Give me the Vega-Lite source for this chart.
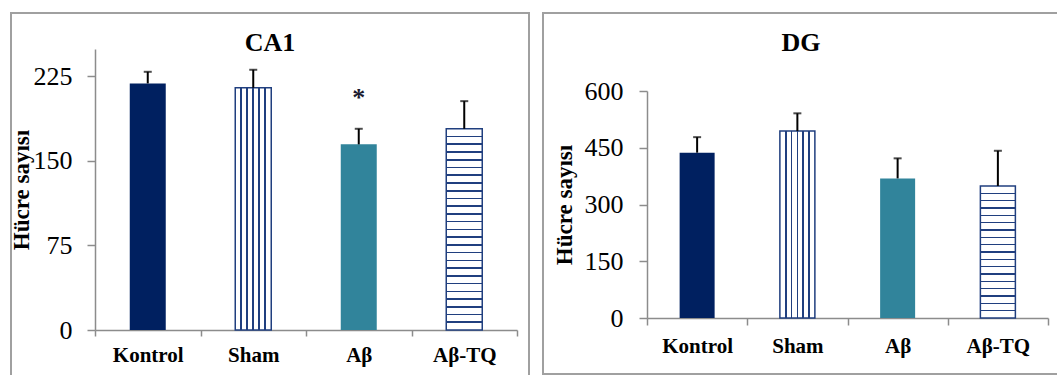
{
  "$schema": "https://vega.github.io/schema/vega-lite/v6.json",
  "background": "white",
  "padding": {"left": 9, "top": 12, "right": 0, "bottom": 0},
  "spacing": 12,
  "datasets": {
    "ca1": [
      {"group": "Kontrol", "mean": 218.5, "upper": 228.8, "sig": ""},
      {"group": "Sham", "mean": 214.6, "upper": 230.6, "sig": ""},
      {"group": "Aβ", "mean": 164.5, "upper": 178.3, "sig": "*"},
      {"group": "Aβ-TQ", "mean": 178.3, "upper": 202.8, "sig": ""}
    ],
    "dg": [
      {"group": "Kontrol", "mean": 437, "upper": 478, "sig": ""},
      {"group": "Sham", "mean": 494, "upper": 541, "sig": ""},
      {"group": "Aβ", "mean": 369, "upper": 422, "sig": ""},
      {"group": "Aβ-TQ", "mean": 349, "upper": 442, "sig": ""}
    ]
  },
  "config": {
    "font": "Liberation Serif",
    "axis": {
      "labelFont": "Liberation Serif",
      "labelColor": "black",
      "titleFont": "Liberation Serif",
      "titleColor": "black",
      "domainColor": "#8C8C8C",
      "domainWidth": 1.5,
      "tickColor": "#8C8C8C",
      "tickWidth": 1.5,
      "grid": false
    }
  },
  "hconcat": [
    {
      "width": 518,
      "height": 362,
      "view": {"stroke": "#A0A0A0", "strokeWidth": 2, "strokeDash": [880, 518, 400]},
      "title": {"text": "CA1", "font": "Liberation Serif", "fontSize": 26, "fontWeight": "bold", "color": "black", "anchor": "middle", "frame": "group", "offset": -64, "baseline": "alphabetic"},
      "data": {"name": "ca1"},
      "encoding": {
        "x": {
          "field": "group", "type": "nominal", "sort": ["Kontrol", "Sham", "Aβ", "Aβ-TQ"],
          "scale": {"range": [84, 506], "paddingInner": 0, "paddingOuter": 0},
          "axis": {"title": null, "offset": -45, "labelAngle": 0, "labelFontSize": 21, "labelFontWeight": "bold", "tickSize": 6, "labelPadding": 8, "tickBand": "extent"}
        },
        "y": {
          "field": "mean", "type": "quantitative",
          "scale": {"domain": [0, 249], "range": [317, 36], "nice": false, "zero": true},
          "axis": {"title": "Hücre sayısı", "titleFontSize": 23, "titleFontWeight": "bold", "titlePadding": 0, "titleLimit": 400, "offset": -84, "values": [0, 75, 150, 225], "labelFontSize": 26, "tickSize": 8, "labelPadding": 15}
        }
      },
      "layer": [
        {
          "transform": [{"filter": "datum.group === 'Kontrol' || datum.group === 'Aβ'"}],
          "mark": {"type": "bar", "width": 36},
          "encoding": {
            "color": {"field": "group", "type": "nominal", "scale": {"domain": ["Kontrol", "Aβ"], "range": ["#002060", "#31849B"]}, "legend": null}
          }
        },
        {
          "transform": [{"filter": "datum.group === 'Sham'"}],
          "mark": {"type": "bar", "width": 36, "stroke": "#203F7F", "strokeWidth": 1.5,
            "fill": {"gradient": "linear", "x1": 0, "y1": 0, "x2": 1, "y2": 0, "stops": [
              {"offset": 0, "color": "#ffffff"},
              {"offset": 0.145, "color": "#ffffff"}, {"offset": 0.145, "color": "#203F7F"}, {"offset": 0.189, "color": "#203F7F"}, {"offset": 0.189, "color": "#ffffff"},
              {"offset": 0.311, "color": "#ffffff"}, {"offset": 0.311, "color": "#203F7F"}, {"offset": 0.355, "color": "#203F7F"}, {"offset": 0.355, "color": "#ffffff"},
              {"offset": 0.478, "color": "#ffffff"}, {"offset": 0.478, "color": "#203F7F"}, {"offset": 0.522, "color": "#203F7F"}, {"offset": 0.522, "color": "#ffffff"},
              {"offset": 0.645, "color": "#ffffff"}, {"offset": 0.645, "color": "#203F7F"}, {"offset": 0.689, "color": "#203F7F"}, {"offset": 0.689, "color": "#ffffff"},
              {"offset": 0.811, "color": "#ffffff"}, {"offset": 0.811, "color": "#203F7F"}, {"offset": 0.855, "color": "#203F7F"}, {"offset": 0.855, "color": "#ffffff"},
              {"offset": 1, "color": "#ffffff"}
            ]}
          }
        },
        {
          "transform": [{"filter": "datum.group === 'Aβ-TQ'"}],
          "mark": {"type": "bar", "width": 36, "stroke": "#203F7F", "strokeWidth": 1.5,
            "fill": {"gradient": "linear", "x1": 0, "y1": 0, "x2": 0, "y2": 1, "stops": [
              {"offset": 0, "color": "#ffffff"},
              {"offset": 0.0345, "color": "#ffffff"}, {"offset": 0.0345, "color": "#203F7F"}, {"offset": 0.0425, "color": "#203F7F"}, {"offset": 0.0425, "color": "#ffffff"},
              {"offset": 0.0729, "color": "#ffffff"}, {"offset": 0.0729, "color": "#203F7F"}, {"offset": 0.0809, "color": "#203F7F"}, {"offset": 0.0809, "color": "#ffffff"},
              {"offset": 0.1114, "color": "#ffffff"}, {"offset": 0.1114, "color": "#203F7F"}, {"offset": 0.1194, "color": "#203F7F"}, {"offset": 0.1194, "color": "#ffffff"},
              {"offset": 0.1498, "color": "#ffffff"}, {"offset": 0.1498, "color": "#203F7F"}, {"offset": 0.1578, "color": "#203F7F"}, {"offset": 0.1578, "color": "#ffffff"},
              {"offset": 0.1883, "color": "#ffffff"}, {"offset": 0.1883, "color": "#203F7F"}, {"offset": 0.1963, "color": "#203F7F"}, {"offset": 0.1963, "color": "#ffffff"},
              {"offset": 0.2268, "color": "#ffffff"}, {"offset": 0.2268, "color": "#203F7F"}, {"offset": 0.2348, "color": "#203F7F"}, {"offset": 0.2348, "color": "#ffffff"},
              {"offset": 0.2652, "color": "#ffffff"}, {"offset": 0.2652, "color": "#203F7F"}, {"offset": 0.2732, "color": "#203F7F"}, {"offset": 0.2732, "color": "#ffffff"},
              {"offset": 0.3037, "color": "#ffffff"}, {"offset": 0.3037, "color": "#203F7F"}, {"offset": 0.3117, "color": "#203F7F"}, {"offset": 0.3117, "color": "#ffffff"},
              {"offset": 0.3422, "color": "#ffffff"}, {"offset": 0.3422, "color": "#203F7F"}, {"offset": 0.3502, "color": "#203F7F"}, {"offset": 0.3502, "color": "#ffffff"},
              {"offset": 0.3806, "color": "#ffffff"}, {"offset": 0.3806, "color": "#203F7F"}, {"offset": 0.3886, "color": "#203F7F"}, {"offset": 0.3886, "color": "#ffffff"},
              {"offset": 0.4191, "color": "#ffffff"}, {"offset": 0.4191, "color": "#203F7F"}, {"offset": 0.4271, "color": "#203F7F"}, {"offset": 0.4271, "color": "#ffffff"},
              {"offset": 0.4575, "color": "#ffffff"}, {"offset": 0.4575, "color": "#203F7F"}, {"offset": 0.4655, "color": "#203F7F"}, {"offset": 0.4655, "color": "#ffffff"},
              {"offset": 0.496, "color": "#ffffff"}, {"offset": 0.496, "color": "#203F7F"}, {"offset": 0.504, "color": "#203F7F"}, {"offset": 0.504, "color": "#ffffff"},
              {"offset": 0.5345, "color": "#ffffff"}, {"offset": 0.5345, "color": "#203F7F"}, {"offset": 0.5425, "color": "#203F7F"}, {"offset": 0.5425, "color": "#ffffff"},
              {"offset": 0.5729, "color": "#ffffff"}, {"offset": 0.5729, "color": "#203F7F"}, {"offset": 0.5809, "color": "#203F7F"}, {"offset": 0.5809, "color": "#ffffff"},
              {"offset": 0.6114, "color": "#ffffff"}, {"offset": 0.6114, "color": "#203F7F"}, {"offset": 0.6194, "color": "#203F7F"}, {"offset": 0.6194, "color": "#ffffff"},
              {"offset": 0.6498, "color": "#ffffff"}, {"offset": 0.6498, "color": "#203F7F"}, {"offset": 0.6578, "color": "#203F7F"}, {"offset": 0.6578, "color": "#ffffff"},
              {"offset": 0.6883, "color": "#ffffff"}, {"offset": 0.6883, "color": "#203F7F"}, {"offset": 0.6963, "color": "#203F7F"}, {"offset": 0.6963, "color": "#ffffff"},
              {"offset": 0.7268, "color": "#ffffff"}, {"offset": 0.7268, "color": "#203F7F"}, {"offset": 0.7348, "color": "#203F7F"}, {"offset": 0.7348, "color": "#ffffff"},
              {"offset": 0.7652, "color": "#ffffff"}, {"offset": 0.7652, "color": "#203F7F"}, {"offset": 0.7732, "color": "#203F7F"}, {"offset": 0.7732, "color": "#ffffff"},
              {"offset": 0.8037, "color": "#ffffff"}, {"offset": 0.8037, "color": "#203F7F"}, {"offset": 0.8117, "color": "#203F7F"}, {"offset": 0.8117, "color": "#ffffff"},
              {"offset": 0.8422, "color": "#ffffff"}, {"offset": 0.8422, "color": "#203F7F"}, {"offset": 0.8502, "color": "#203F7F"}, {"offset": 0.8502, "color": "#ffffff"},
              {"offset": 0.8806, "color": "#ffffff"}, {"offset": 0.8806, "color": "#203F7F"}, {"offset": 0.8886, "color": "#203F7F"}, {"offset": 0.8886, "color": "#ffffff"},
              {"offset": 0.9191, "color": "#ffffff"}, {"offset": 0.9191, "color": "#203F7F"}, {"offset": 0.9271, "color": "#203F7F"}, {"offset": 0.9271, "color": "#ffffff"},
              {"offset": 0.9575, "color": "#ffffff"}, {"offset": 0.9575, "color": "#203F7F"}, {"offset": 0.9655, "color": "#203F7F"}, {"offset": 0.9655, "color": "#ffffff"},
              {"offset": 1, "color": "#ffffff"}
            ]}
          }
        },
        {
          "mark": {"type": "rule", "color": "black", "strokeWidth": 2},
          "encoding": {"y2": {"field": "upper"}}
        },
        {
          "mark": {"type": "tick", "color": "black", "size": 8, "thickness": 2},
          "encoding": {"y": {"field": "upper", "type": "quantitative"}}
        },
        {
          "transform": [{"filter": "datum.sig !== ''"}],
          "mark": {"type": "text", "font": "Liberation Serif", "fontSize": 26, "fontWeight": "bold", "color": "#1a1a2e", "baseline": "middle", "dy": -46},
          "encoding": {"text": {"field": "sig"}}
        }
      ]
    },
    {
      "width": 516,
      "height": 361,
      "view": {"stroke": "#A0A0A0", "strokeWidth": 2, "strokeDash": [516, 361, 900]},
      "title": {"text": "DG", "font": "Liberation Serif", "fontSize": 26, "fontWeight": "bold", "color": "black", "anchor": "middle", "frame": "group", "offset": -64, "baseline": "alphabetic"},
      "data": {"name": "dg"},
      "encoding": {
        "x": {
          "field": "group", "type": "nominal", "sort": ["Kontrol", "Sham", "Aβ", "Aβ-TQ"],
          "scale": {"range": [104, 505], "paddingInner": 0, "paddingOuter": 0},
          "axis": {"title": null, "offset": -56, "labelAngle": 0, "labelFontSize": 21, "labelFontWeight": "bold", "tickSize": 7, "labelPadding": 10, "tickBand": "extent"}
        },
        "y": {
          "field": "mean", "type": "quantitative",
          "scale": {"domain": [0, 600], "range": [305, 78], "nice": false, "zero": true},
          "axis": {"title": "Hücre sayısı", "titleFontSize": 23, "titleFontWeight": "bold", "titlePadding": 8, "titleLimit": 400, "offset": -104, "values": [0, 150, 300, 450, 600], "labelFontSize": 26, "tickSize": 8, "labelPadding": 16}
        }
      },
      "layer": [
        {
          "transform": [{"filter": "datum.group === 'Kontrol' || datum.group === 'Aβ'"}],
          "mark": {"type": "bar", "width": 35},
          "encoding": {
            "color": {"field": "group", "type": "nominal", "scale": {"domain": ["Kontrol", "Aβ"], "range": ["#002060", "#31849B"]}, "legend": null}
          }
        },
        {
          "transform": [{"filter": "datum.group === 'Sham'"}],
          "mark": {"type": "bar", "width": 35, "stroke": "#203F7F", "strokeWidth": 1.5,
            "fill": {"gradient": "linear", "x1": 0, "y1": 0, "x2": 1, "y2": 0, "stops": [
              {"offset": 0, "color": "#ffffff"},
              {"offset": 0.144, "color": "#ffffff"}, {"offset": 0.144, "color": "#203F7F"}, {"offset": 0.19, "color": "#203F7F"}, {"offset": 0.19, "color": "#ffffff"},
              {"offset": 0.31, "color": "#ffffff"}, {"offset": 0.31, "color": "#203F7F"}, {"offset": 0.356, "color": "#203F7F"}, {"offset": 0.356, "color": "#ffffff"},
              {"offset": 0.477, "color": "#ffffff"}, {"offset": 0.477, "color": "#203F7F"}, {"offset": 0.523, "color": "#203F7F"}, {"offset": 0.523, "color": "#ffffff"},
              {"offset": 0.644, "color": "#ffffff"}, {"offset": 0.644, "color": "#203F7F"}, {"offset": 0.69, "color": "#203F7F"}, {"offset": 0.69, "color": "#ffffff"},
              {"offset": 0.81, "color": "#ffffff"}, {"offset": 0.81, "color": "#203F7F"}, {"offset": 0.856, "color": "#203F7F"}, {"offset": 0.856, "color": "#ffffff"},
              {"offset": 1, "color": "#ffffff"}
            ]}
          }
        },
        {
          "transform": [{"filter": "datum.group === 'Aβ-TQ'"}],
          "mark": {"type": "bar", "width": 35, "stroke": "#203F7F", "strokeWidth": 1.5,
            "fill": {"gradient": "linear", "x1": 0, "y1": 0, "x2": 0, "y2": 1, "stops": [
              {"offset": 0, "color": "#ffffff"},
              {"offset": 0.0496, "color": "#ffffff"}, {"offset": 0.0496, "color": "#203F7F"}, {"offset": 0.0616, "color": "#203F7F"}, {"offset": 0.0616, "color": "#ffffff"},
              {"offset": 0.1051, "color": "#ffffff"}, {"offset": 0.1051, "color": "#203F7F"}, {"offset": 0.1171, "color": "#203F7F"}, {"offset": 0.1171, "color": "#ffffff"},
              {"offset": 0.1607, "color": "#ffffff"}, {"offset": 0.1607, "color": "#203F7F"}, {"offset": 0.1727, "color": "#203F7F"}, {"offset": 0.1727, "color": "#ffffff"},
              {"offset": 0.2162, "color": "#ffffff"}, {"offset": 0.2162, "color": "#203F7F"}, {"offset": 0.2282, "color": "#203F7F"}, {"offset": 0.2282, "color": "#ffffff"},
              {"offset": 0.2718, "color": "#ffffff"}, {"offset": 0.2718, "color": "#203F7F"}, {"offset": 0.2838, "color": "#203F7F"}, {"offset": 0.2838, "color": "#ffffff"},
              {"offset": 0.3273, "color": "#ffffff"}, {"offset": 0.3273, "color": "#203F7F"}, {"offset": 0.3393, "color": "#203F7F"}, {"offset": 0.3393, "color": "#ffffff"},
              {"offset": 0.3829, "color": "#ffffff"}, {"offset": 0.3829, "color": "#203F7F"}, {"offset": 0.3949, "color": "#203F7F"}, {"offset": 0.3949, "color": "#ffffff"},
              {"offset": 0.4384, "color": "#ffffff"}, {"offset": 0.4384, "color": "#203F7F"}, {"offset": 0.4504, "color": "#203F7F"}, {"offset": 0.4504, "color": "#ffffff"},
              {"offset": 0.494, "color": "#ffffff"}, {"offset": 0.494, "color": "#203F7F"}, {"offset": 0.506, "color": "#203F7F"}, {"offset": 0.506, "color": "#ffffff"},
              {"offset": 0.5496, "color": "#ffffff"}, {"offset": 0.5496, "color": "#203F7F"}, {"offset": 0.5616, "color": "#203F7F"}, {"offset": 0.5616, "color": "#ffffff"},
              {"offset": 0.6051, "color": "#ffffff"}, {"offset": 0.6051, "color": "#203F7F"}, {"offset": 0.6171, "color": "#203F7F"}, {"offset": 0.6171, "color": "#ffffff"},
              {"offset": 0.6607, "color": "#ffffff"}, {"offset": 0.6607, "color": "#203F7F"}, {"offset": 0.6727, "color": "#203F7F"}, {"offset": 0.6727, "color": "#ffffff"},
              {"offset": 0.7162, "color": "#ffffff"}, {"offset": 0.7162, "color": "#203F7F"}, {"offset": 0.7282, "color": "#203F7F"}, {"offset": 0.7282, "color": "#ffffff"},
              {"offset": 0.7718, "color": "#ffffff"}, {"offset": 0.7718, "color": "#203F7F"}, {"offset": 0.7838, "color": "#203F7F"}, {"offset": 0.7838, "color": "#ffffff"},
              {"offset": 0.8273, "color": "#ffffff"}, {"offset": 0.8273, "color": "#203F7F"}, {"offset": 0.8393, "color": "#203F7F"}, {"offset": 0.8393, "color": "#ffffff"},
              {"offset": 0.8829, "color": "#ffffff"}, {"offset": 0.8829, "color": "#203F7F"}, {"offset": 0.8949, "color": "#203F7F"}, {"offset": 0.8949, "color": "#ffffff"},
              {"offset": 0.9384, "color": "#ffffff"}, {"offset": 0.9384, "color": "#203F7F"}, {"offset": 0.9504, "color": "#203F7F"}, {"offset": 0.9504, "color": "#ffffff"},
              {"offset": 1, "color": "#ffffff"}
            ]}
          }
        },
        {
          "mark": {"type": "rule", "color": "black", "strokeWidth": 2},
          "encoding": {"y2": {"field": "upper"}}
        },
        {
          "mark": {"type": "tick", "color": "black", "size": 8, "thickness": 2},
          "encoding": {"y": {"field": "upper", "type": "quantitative"}}
        }
      ]
    }
  ]
}
